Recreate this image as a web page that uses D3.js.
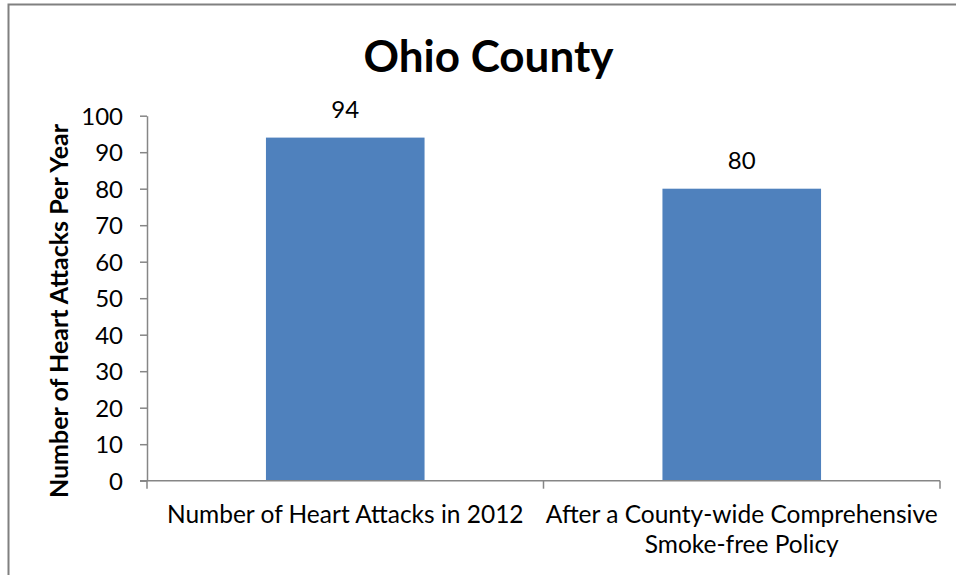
<!DOCTYPE html>
<html>
<head>
<meta charset="utf-8">
<script src="https://cdn.jsdelivr.net/npm/d3@7"></script>
<style>
  html, body { margin: 0; padding: 0; background: #fff; }
  svg { display: block; font-family: Lato, "Liberation Sans", sans-serif; }
</style>
</head>
<body>
<svg id="chart" width="956" height="575"></svg>
<script>
const chartTitle = "Ohio County";
const yAxisTitle = "Number of Heart Attacks Per Year";
const categories = ["Number of Heart Attacks in 2012", "After a County-wide Comprehensive\nSmoke-free Policy"];
const values = [94, 80];
const yTicks = [0, 10, 20, 30, 40, 50, 60, 70, 80, 90, 100];

const svg = d3.select("#chart");
const W = 956, H = 575;
const plot = { left: 147, right: 940, top: 115.7, bottom: 480.7 };
const axisColor = "#868686";
const barColor = "#4F81BD";

// chart border (top and left visible)
svg.append("path")
  .attr("d", `M8.5,${H} L8.5,4.5 L${W},4.5`)
  .attr("fill", "none").attr("stroke", "#808080").attr("stroke-width", 2);

const y = d3.scaleLinear().domain([0, 100]).range([plot.bottom, plot.top]);
const x = d3.scaleBand().domain(categories).range([plot.left, plot.right])
  .paddingInner(0.6).paddingOuter(0.3);
const step = x.step();

// bars
svg.append("g").selectAll("rect").data(values).join("rect")
  .attr("x", (d, i) => x(categories[i]))
  .attr("y", d => y(d))
  .attr("width", x.bandwidth())
  .attr("height", d => y(0) - y(d))
  .attr("fill", barColor);

// y axis
const yAxis = svg.append("g").attr("transform", `translate(${plot.left},0)`)
  .call(d3.axisLeft(y).tickValues(yTicks).tickSize(7).tickPadding(17).tickSizeOuter(0));
yAxis.select(".domain").attr("stroke", axisColor).attr("stroke-width", 1.5);
yAxis.selectAll(".tick line").attr("stroke", axisColor).attr("stroke-width", 1.5);
yAxis.selectAll(".tick text").attr("font-size", 24).attr("fill", "#000")
  .attr("font-family", "Lato, sans-serif").attr("dy", "0.36em");

// x axis line
svg.append("line")
  .attr("x1", plot.left - 7).attr("x2", plot.right)
  .attr("y1", y(0)).attr("y2", y(0))
  .attr("stroke", axisColor).attr("stroke-width", 1.5);

// category boundary ticks
const bounds = d3.range(categories.length + 1).map(i => plot.left + i * step);
svg.append("g").selectAll("line").data(bounds).join("line")
  .attr("x1", d => d).attr("x2", d => d)
  .attr("y1", y(0)).attr("y2", y(0) + 8)
  .attr("stroke", axisColor).attr("stroke-width", 1.5);

// category labels
const catG = svg.append("g");
categories.forEach((c, i) => {
  const cx = x(c) + x.bandwidth() / 2;
  const t = catG.append("text").attr("text-anchor", "middle")
    .attr("font-size", 24.5).attr("fill", "#000");
  c.split("\n").forEach((line, j) => {
    t.append("tspan").attr("x", cx).attr("y", 523 + j * 30).text(line);
  });
});

// data labels
svg.append("g").selectAll("text").data(values).join("text")
  .attr("x", (d, i) => x(categories[i]) + x.bandwidth() / 2)
  .attr("y", d => y(d) - 20)
  .attr("text-anchor", "middle")
  .attr("font-size", 24).attr("fill", "#000")
  .text(d => d);

// y axis title
svg.append("text")
  .attr("transform", "translate(68,311) rotate(-90)")
  .attr("text-anchor", "middle")
  .attr("font-size", 25).attr("font-weight", "bold").attr("fill", "#000")
  .text(yAxisTitle);

// chart title
svg.append("text")
  .attr("x", 488.5).attr("y", 72)
  .attr("text-anchor", "middle")
  .attr("font-size", 44).attr("font-weight", "bold").attr("fill", "#000")
  .text(chartTitle);
</script>
</body>
</html>
